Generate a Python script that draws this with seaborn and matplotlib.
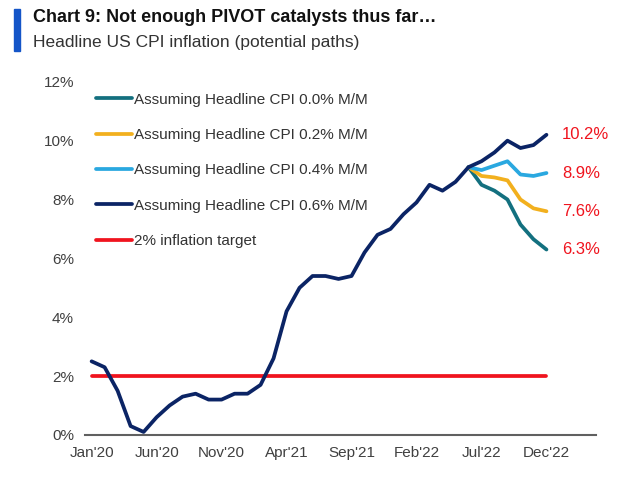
import numpy as np
import pandas as pd
import matplotlib
matplotlib.use('Agg')
import matplotlib.pyplot as plt
import seaborn as sns

# monthly YoY headline CPI, Jan'20 .. Jun'22 (actual)
months = pd.date_range('2020-01-01', '2022-12-01', freq='MS')
actual = [2.5, 2.3, 1.5, 0.3, 0.1, 0.6, 1.0, 1.3, 1.4, 1.2, 1.2, 1.4,
          1.4, 1.7, 2.6, 4.2, 5.0, 5.4, 5.4, 5.3, 5.4, 6.2, 6.8, 7.0,
          7.5, 7.9, 8.5, 8.3, 8.6, 9.1]

# projected paths Jul'22 .. Dec'22
path_00 = [8.5, 8.3, 8.0, 7.15, 6.65, 6.3]
path_02 = [8.8, 8.75, 8.65, 8.0, 7.7, 7.6]
path_04 = [9.0, 9.15, 9.3, 8.85, 8.8, 8.9]
path_06 = [9.3, 9.6, 10.0, 9.75, 9.85, 10.2]

series_names = ['Assuming Headline CPI 0.0% M/M',
                'Assuming Headline CPI 0.2% M/M',
                'Assuming Headline CPI 0.4% M/M',
                'Assuming Headline CPI 0.6% M/M']
paths = [path_00, path_02, path_04, path_06]
end_labels = ['6.3%', '7.6%', '8.9%', '10.2%']
target = 2.0

tick_labels = ["Jan'20", "Jun'20", "Nov'20", "Apr'21", "Sep'21", "Feb'22", "Jul'22", "Dec'22"]

palette = {
    series_names[0]: '#13707f',
    series_names[1]: '#f2b01e',
    series_names[2]: '#2aa8e0',
    series_names[3]: '#0b2465',
}
red = '#f0141e'

# build long table: each path = actual history + projection
rows = []
n_act = len(actual)
for name, p in zip(series_names, paths):
    vals = actual + p
    for i, v in enumerate(vals):
        rows.append({'m': i, 'cpi': v, 'series': name})
df = pd.DataFrame(rows)

sns.set_style('white')
plt.rcParams['font.family'] = ['Liberation Sans', 'DejaVu Sans']

fig = plt.figure(figsize=(6.4, 4.87), dpi=100)
ax = fig.add_axes([0.133, 0.107, 0.798, 0.725])

# projections first, the 0.6% path (with full history) last so it sits on top
for name in series_names:
    sub = df[df['series'] == name]
    if name != series_names[3]:
        sub = sub[sub['m'] >= n_act - 1]
    sns.lineplot(data=sub, x='m', y='cpi', color=palette[name], lw=2.7,
                 ax=ax, label=name, zorder=3)

tgt = pd.DataFrame({'m': [0, len(months) - 1], 'cpi': [target, target]})
sns.lineplot(data=tgt, x='m', y='cpi', color=red, lw=2.7, ax=ax,
             label='2% inflation target', zorder=2)

# end-of-path labels
for p, lab in zip(paths, end_labels):
    ax.text(len(months) - 1 + 1.2, p[-1], lab, color=red, fontsize=12,
            va='center', ha='left')

ax.set_xlim(-0.5, 38.8)
ax.set_ylim(0, 12)
ax.set_xticks(np.arange(0, len(months), 5))
ax.set_xticklabels(tick_labels)
ax.set_yticks(np.arange(0, 13, 2))
ax.set_yticklabels([f'{v}%' for v in range(0, 13, 2)])
ax.tick_params(axis='both', labelsize=11, colors='#404040', length=0, pad=8)
ax.set_xlabel('')
ax.set_ylabel('')
for s in ['top', 'right', 'left']:
    ax.spines[s].set_visible(False)
ax.spines['bottom'].set_color('#606060')
ax.spines['bottom'].set_linewidth(1.5)

leg = ax.legend(loc='upper left', bbox_to_anchor=(0.0, 1.0), frameon=False,
                fontsize=11, handlelength=2.4, handletextpad=0.1,
                labelspacing=1.4, borderaxespad=0.3)
for t in leg.get_texts():
    t.set_color('#333333')

# title block
fig.patches.append(plt.Rectangle((0.022, 0.895), 0.009, 0.087,
                                 transform=fig.transFigure, color='#1455c8'))
fig.text(0.052, 0.965, 'Chart 9: Not enough PIVOT catalysts thus far\u2026',
         fontsize=13, fontweight='bold', color='#111111', va='center')
fig.text(0.052, 0.913, 'Headline US CPI inflation (potential paths)',
         fontsize=12.5, color='#333333', va='center')

fig.savefig('out.png', dpi=100)
